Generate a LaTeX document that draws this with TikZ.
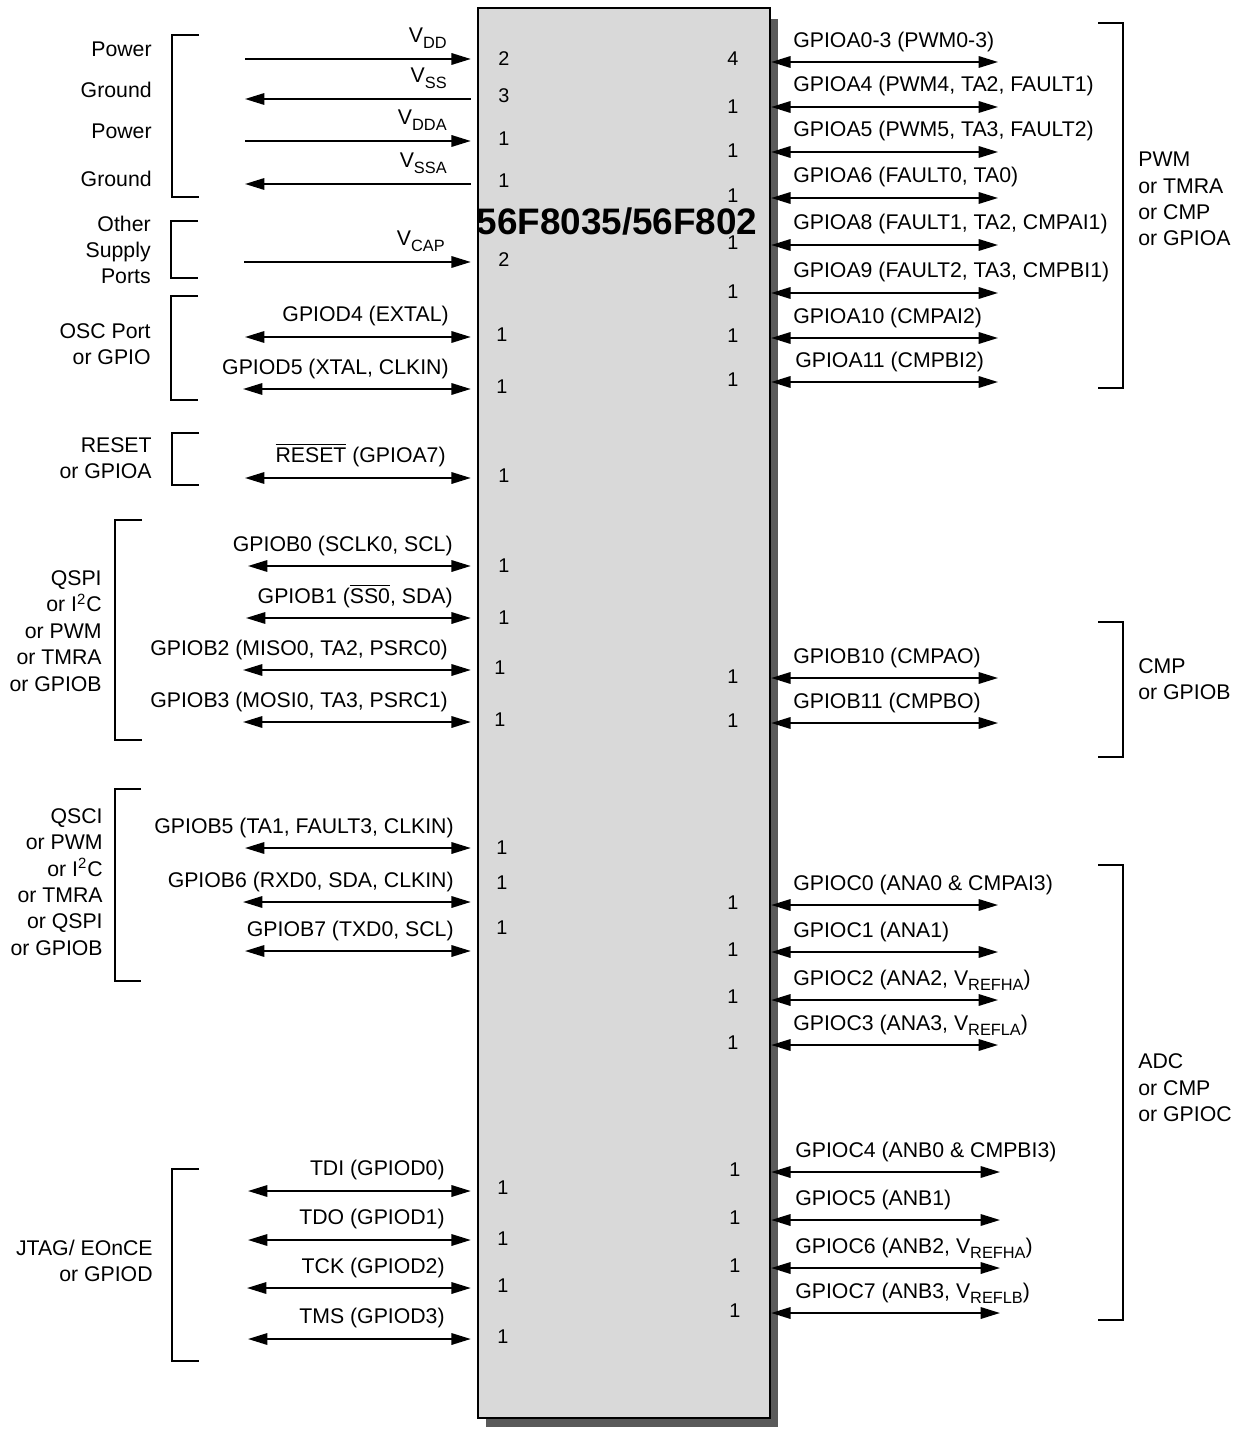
\documentclass[tikz,border=0pt]{standalone}
\usepackage{fontspec}
\setmainfont{Liberation Sans}
\usetikzlibrary{arrows.meta,calc}
\newcommand{\lowsub}[1]{\raisebox{-3pt}{\fontsize{9.3}{10}\selectfont #1}}

\begin{document}
\begin{tikzpicture}[x=0.02cm, y=-0.02cm,
    >={Triangle[length=11pt,width=6.5pt]},
    sig/.style={line width=1.1pt},
    sigL/.style={sig, shorten >=0.12cm},
    brk/.style={line width=1.1pt},
    llbl/.style={anchor=base east, inner sep=0pt, font=\fontsize{12.1}{15}\selectfont},
    rlbl/.style={anchor=base west, inner sep=0pt, font=\fontsize{12.1}{15}\selectfont},
    pinno/.style={inner sep=0pt, font=\fontsize{11.3}{13}\selectfont},
    grpL/.style={anchor=east, align=right, inner sep=0pt, font=\fontsize{12.1}{15}\selectfont},
    grpR/.style={anchor=west, align=left, inner sep=0pt, font=\fontsize{12.1}{15}\selectfont}]
        % Define the chip colours
        \definecolor{chipgray}{RGB}{217,217,217}
        \definecolor{shadowgray}{RGB}{90,90,90}
        \useasboundingbox (0,0) rectangle (1240,1429);

        % Chip body with its shadow
        \fill[shadowgray] (486,19) rectangle (778,1427);
        \node[draw, line width=1.4pt, fill=chipgray, minimum width=5.84cm, minimum height=28.2cm, inner sep=0pt] (chip) at (624,713) {};
        \node[font=\fontsize{21}{25}\selectfont\bfseries, inner sep=0pt] (title) at (617,222) {56F8035/56F802};

        % Supply pins
        \coordinate (vdd) at (245,59);
        \draw[sigL,->] (vdd) -- (vdd -| chip.west);
        \node[llbl] (vddlbl) at (447,43) {V\lowsub{DD}};
        \node[pinno] (vddno) at (504,59) {2};
        \coordinate (vss) at (245,99);
        \draw[sigL,<-] (vss) -- (vss -| chip.west);
        \node[llbl] (vsslbl) at (447,83) {V\lowsub{SS}};
        \node[pinno] (vssno) at (504,96) {3};
        \coordinate (vdda) at (245,141);
        \draw[sigL,->] (vdda) -- (vdda -| chip.west);
        \node[llbl] (vddalbl) at (447,125) {V\lowsub{DDA}};
        \node[pinno] (vddano) at (504,139) {1};
        \coordinate (vssa) at (245,184);
        \draw[sigL,<-] (vssa) -- (vssa -| chip.west);
        \node[llbl] (vssalbl) at (447,168) {V\lowsub{SSA}};
        \node[pinno] (vssano) at (504,181) {1};
        \coordinate (vcap) at (244,262);
        \draw[sigL,->] (vcap) -- (vcap -| chip.west);
        \node[llbl] (vcaplbl) at (445,246) {V\lowsub{CAP}};
        \node[pinno] (vcapno) at (504,260) {2};

        % Oscillator and reset pins
        \coordinate (d4) at (245,337);
        \draw[sigL,<->] (d4) -- (d4 -| chip.west);
        \node[llbl] (d4lbl) at (449,321) {GPIOD4 (EXTAL)};
        \node[pinno] (d4no) at (502,335) {1};
        \coordinate (d5) at (243,389);
        \draw[sigL,<->] (d5) -- (d5 -| chip.west);
        \node[llbl] (d5lbl) at (449,374) {GPIOD5 (XTAL, CLKIN)};
        \node[pinno] (d5no) at (502,387) {1};
        \coordinate (rst) at (245,478);
        \draw[sigL,<->] (rst) -- (rst -| chip.west);
        \node[llbl] (rstlbl) at (446,462) {$\overline{\mbox{RESET}}$ (GPIOA7)};
        \node[pinno] (rstno) at (504,476) {1};

        % Port B pins, left side
        \coordinate (b0) at (248,566);
        \draw[sigL,<->] (b0) -- (b0 -| chip.west);
        \node[llbl] (b0lbl) at (453,551) {GPIOB0 (SCLK0, SCL)};
        \node[pinno] (b0no) at (504,566) {1};
        \coordinate (b1) at (246,618);
        \draw[sigL,<->] (b1) -- (b1 -| chip.west);
        \node[llbl] (b1lbl) at (453,603) {GPIOB1 ($\overline{\mbox{SS0}}$, SDA)};
        \node[pinno] (b1no) at (504,618) {1};
        \coordinate (b2) at (243,670);
        \draw[sigL,<->] (b2) -- (b2 -| chip.west);
        \node[llbl] (b2lbl) at (448,655) {GPIOB2 (MISO0, TA2, PSRC0)};
        \node[pinno] (b2no) at (500,668) {1};
        \coordinate (b3) at (243,722);
        \draw[sigL,<->] (b3) -- (b3 -| chip.west);
        \node[llbl] (b3lbl) at (448,707) {GPIOB3 (MOSI0, TA3, PSRC1)};
        \node[pinno] (b3no) at (500,720) {1};
        \coordinate (b5) at (245,848);
        \draw[sigL,<->] (b5) -- (b5 -| chip.west);
        \node[llbl] (b5lbl) at (454,833) {GPIOB5 (TA1, FAULT3, CLKIN)};
        \node[pinno] (b5no) at (502,848) {1};
        \coordinate (b6) at (243,902);
        \draw[sigL,<->] (b6) -- (b6 -| chip.west);
        \node[llbl] (b6lbl) at (454,887) {GPIOB6 (RXD0, SDA, CLKIN)};
        \node[pinno] (b6no) at (502,883) {1};
        \coordinate (b7) at (245,951);
        \draw[sigL,<->] (b7) -- (b7 -| chip.west);
        \node[llbl] (b7lbl) at (454,936) {GPIOB7 (TXD0, SCL)};
        \node[pinno] (b7no) at (502,928) {1};

        % JTAG pins
        \coordinate (tdi) at (248,1191);
        \draw[sigL,<->] (tdi) -- (tdi -| chip.west);
        \node[llbl] (tdilbl) at (445,1175) {TDI (GPIOD0)};
        \node[pinno] (tdino) at (503,1188) {1};
        \coordinate (tdo) at (248,1240);
        \draw[sigL,<->] (tdo) -- (tdo -| chip.west);
        \node[llbl] (tdolbl) at (445,1224) {TDO (GPIOD1)};
        \node[pinno] (tdono) at (503,1239) {1};
        \coordinate (tck) at (247,1288);
        \draw[sigL,<->] (tck) -- (tck -| chip.west);
        \node[llbl] (tcklbl) at (445,1273) {TCK (GPIOD2)};
        \node[pinno] (tckno) at (503,1286) {1};
        \coordinate (tms) at (248,1339);
        \draw[sigL,<->] (tms) -- (tms -| chip.west);
        \node[llbl] (tmslbl) at (445,1323) {TMS (GPIOD3)};
        \node[pinno] (tmsno) at (503,1337) {1};

        % Port A pins, right side
        \coordinate (a03) at (998,62);
        \draw[sig,<->] (a03 -| chip.east) -- (a03);
        \node[rlbl] (a03lbl) at (793,48) {GPIOA0-3 (PWM0-3)};
        \node[pinno] (a03no) at (733,59) {4};
        \coordinate (a4) at (998,107);
        \draw[sig,<->] (a4 -| chip.east) -- (a4);
        \node[rlbl] (a4lbl) at (793,92) {GPIOA4 (PWM4, TA2, FAULT1)};
        \node[pinno] (a4no) at (733,107) {1};
        \coordinate (a5) at (998,152);
        \draw[sig,<->] (a5 -| chip.east) -- (a5);
        \node[rlbl] (a5lbl) at (793,137) {GPIOA5 (PWM5, TA3, FAULT2)};
        \node[pinno] (a5no) at (733,151) {1};
        \coordinate (a6) at (998,198);
        \draw[sig,<->] (a6 -| chip.east) -- (a6);
        \node[rlbl] (a6lbl) at (793,183) {GPIOA6 (FAULT0, TA0)};
        \node[pinno] (a6no) at (733,196) {1};
        \coordinate (a8) at (998,245);
        \draw[sig,<->] (a8 -| chip.east) -- (a8);
        \node[rlbl] (a8lbl) at (793,230) {GPIOA8 (FAULT1, TA2, CMPAI1)};
        \node[pinno] (a8no) at (733,243) {1};
        \coordinate (a9) at (998,293);
        \draw[sig,<->] (a9 -| chip.east) -- (a9);
        \node[rlbl] (a9lbl) at (793,278) {GPIOA9 (FAULT2, TA3, CMPBI1)};
        \node[pinno] (a9no) at (733,292) {1};
        \coordinate (a10) at (998,338);
        \draw[sig,<->] (a10 -| chip.east) -- (a10);
        \node[rlbl] (a10lbl) at (793,323) {GPIOA10 (CMPAI2)};
        \node[pinno] (a10no) at (733,336) {1};
        \coordinate (a11) at (998,382);
        \draw[sig,<->] (a11 -| chip.east) -- (a11);
        \node[rlbl] (a11lbl) at (795,367) {GPIOA11 (CMPBI2)};
        \node[pinno] (a11no) at (733,380) {1};

        % Comparator outputs
        \coordinate (b10) at (998,678);
        \draw[sig,<->] (b10 -| chip.east) -- (b10);
        \node[rlbl] (b10lbl) at (793,663) {GPIOB10 (CMPAO)};
        \node[pinno] (b10no) at (733,677) {1};
        \coordinate (b11) at (998,723);
        \draw[sig,<->] (b11 -| chip.east) -- (b11);
        \node[rlbl] (b11lbl) at (793,708) {GPIOB11 (CMPBO)};
        \node[pinno] (b11no) at (733,721) {1};

        % ADC inputs
        \coordinate (c0) at (998,905);
        \draw[sig,<->] (c0 -| chip.east) -- (c0);
        \node[rlbl] (c0lbl) at (793,890) {GPIOC0 (ANA0 \& CMPAI3)};
        \node[pinno] (c0no) at (733,903) {1};
        \coordinate (c1) at (998,952);
        \draw[sig,<->] (c1 -| chip.east) -- (c1);
        \node[rlbl] (c1lbl) at (793,937) {GPIOC1 (ANA1)};
        \node[pinno] (c1no) at (733,950) {1};
        \coordinate (c2) at (998,1000);
        \draw[sig,<->] (c2 -| chip.east) -- (c2);
        \node[rlbl] (c2lbl) at (793,985) {GPIOC2 (ANA2, V\lowsub{REFHA})};
        \node[pinno] (c2no) at (733,997) {1};
        \coordinate (c3) at (998,1045);
        \draw[sig,<->] (c3 -| chip.east) -- (c3);
        \node[rlbl] (c3lbl) at (793,1030) {GPIOC3 (ANA3, V\lowsub{REFLA})};
        \node[pinno] (c3no) at (733,1043) {1};
        \coordinate (c4) at (1000,1172);
        \draw[sig,<->] (c4 -| chip.east) -- (c4);
        \node[rlbl] (c4lbl) at (795,1157) {GPIOC4 (ANB0 \& CMPBI3)};
        \node[pinno] (c4no) at (735,1170) {1};
        \coordinate (c5) at (1000,1220);
        \draw[sig,<->] (c5 -| chip.east) -- (c5);
        \node[rlbl] (c5lbl) at (795,1205) {GPIOC5 (ANB1)};
        \node[pinno] (c5no) at (735,1218) {1};
        \coordinate (c6) at (1000,1268);
        \draw[sig,<->] (c6 -| chip.east) -- (c6);
        \node[rlbl] (c6lbl) at (795,1253) {GPIOC6 (ANB2, V\lowsub{REFHA})};
        \node[pinno] (c6no) at (735,1266) {1};
        \coordinate (c7) at (1000,1313);
        \draw[sig,<->] (c7 -| chip.east) -- (c7);
        \node[rlbl] (c7lbl) at (795,1298) {GPIOC7 (ANB3, V\lowsub{REFLB})};
        \node[pinno] (c7no) at (735,1311) {1};

        % Group brackets, left side
        \draw[brk] (199,35) -| (172,197) -- (199,197);
        \draw[brk] (198,221) -| (171,278) -- (198,278);
        \draw[brk] (198,296) -| (171,400) -- (198,400);
        \draw[brk] (199,433) -| (172,485) -- (199,485);
        \draw[brk] (142,520) -| (115,740) -- (142,740);
        \draw[brk] (141,789) -| (115,981) -- (141,981);
        \draw[brk] (199,1169) -| (172,1361) -- (199,1361);

        % Group brackets, right side
        \draw[brk] (1098,23) -| (1123,388) -- (1098,388);
        \draw[brk] (1098,622) -| (1123,757) -- (1098,757);
        \draw[brk] (1098,865) -| (1123,1320) -- (1098,1320);

        % Group names, left side
        \node[grpL] (pwr1) at (152,49) {Power};
        \node[grpL] (gnd1) at (152,90) {Ground};
        \node[grpL] (pwr2) at (152,131) {Power};
        \node[grpL] (gnd2) at (152,179) {Ground};
        \node[grpL] (other) at (151,250) {Other\\Supply\\Ports};
        \node[grpL] (osc) at (151,344) {OSC Port\\or GPIO};
        \node[grpL] (reset) at (152,458) {RESET\\or GPIOA};
        \node[grpL] (qspi) at (102,631) {QSPI\\or I\textsuperscript{2}C\\or PWM\\or TMRA\\or GPIOB};
        \node[grpL] (qsci) at (103,882) {QSCI\\or PWM\\or I\textsuperscript{2}C\\or TMRA\\or QSPI\\or GPIOB};
        \node[grpL] (jtag) at (153,1261) {JTAG/ EOnCE\\or GPIOD};

        % Group names, right side
        \node[grpR] (pwm) at (1138,199) {PWM\\or TMRA\\or CMP\\or GPIOA};
        \node[grpR] (cmp) at (1138,679) {CMP\\or GPIOB};
        \node[grpR] (adc) at (1138,1088) {ADC\\or CMP\\or GPIOC};
    \end{tikzpicture}
\end{document}
